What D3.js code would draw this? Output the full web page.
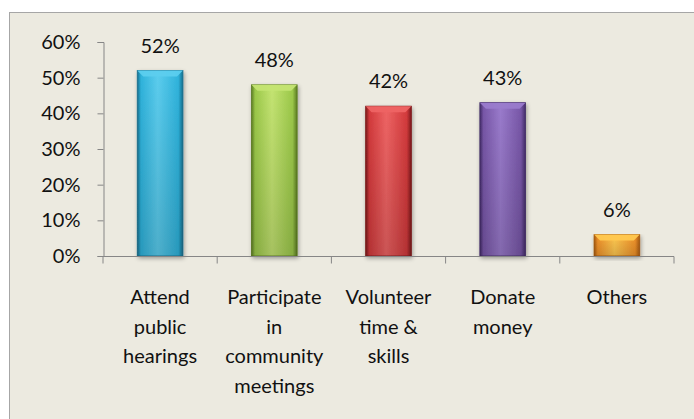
<!DOCTYPE html>
<html>
<head>
<meta charset="utf-8">
<script src="https://cdn.jsdelivr.net/npm/d3@7"></script>
<style>
  body { margin: 0; background: #ffffff; }
  svg { display: block; font-family: Lato, "Open Sans", sans-serif; }
</style>
</head>
<body>
<svg id="chart" width="694" height="419"></svg>
<script>
// chart data
const categories = [
    ["Attend", "public", "hearings"],
    ["Participate", "in", "community", "meetings"],
    ["Volunteer", "time &", "skills"],
    ["Donate", "money"],
    ["Others"]
];
const values = [0.52, 0.48, 0.42, 0.43, 0.06];
const valueLabels = ["52%", "48%", "42%", "43%", "6%"];
const yTicks = [0, 0.1, 0.2, 0.3, 0.4, 0.5, 0.6];
// base, light, dark for each bar
const barColors = [
    ["#2fb3dc", "#5ccdee", "#16708f"],
    ["#9cc94a", "#c4e472", "#5c7d22"],
    ["#d33a3c", "#ee6464", "#7d1a1c"],
    ["#7857a8", "#9a7bcc", "#432c68"],
    ["#f0922a", "#ffc850", "#a85a10"]
];

const svg = d3.select('#chart');

// chart area frame
svg.append('rect')
    .attr('x', 9.5).attr('y', 12.5)
    .attr('width', 700).attr('height', 420)
    .attr('fill', '#eceae0')
    .attr('stroke', '#a6a6a6');

let x = d3.scaleBand()
    .domain(d3.range(values.length))
    .range([103, 674])
    .paddingInner(0.6)
    .paddingOuter(0.3);

let y = d3.scaleLinear()
    .domain([0, 0.6])
    .range([256, 42]);

let defs = svg.append('defs');
barColors.forEach(function (c, i) {
    let g = defs.append('linearGradient').attr('id', 'bar' + i)
        .attr('x1', 0).attr('x2', 1).attr('y1', 0).attr('y2', 0);
    g.append('stop').attr('offset', 0).attr('stop-color', c[2]);
    g.append('stop').attr('offset', 0.08).attr('stop-color', c[0]);
    g.append('stop').attr('offset', 0.45).attr('stop-color', c[1]);
    g.append('stop').attr('offset', 0.9).attr('stop-color', c[0]);
    g.append('stop').attr('offset', 1).attr('stop-color', c[2]);

    let v = defs.append('linearGradient').attr('id', 'shade' + i)
        .attr('x1', 0).attr('x2', 0).attr('y1', 0).attr('y2', 1);
    v.append('stop').attr('offset', 0).attr('stop-color', '#000').attr('stop-opacity', 0);
    v.append('stop').attr('offset', 1).attr('stop-color', '#000').attr('stop-opacity', 0.15);
});

let shadow = defs.append('filter').attr('id', 'shadow')
    .attr('x', '-20%').attr('y', '-10%').attr('width', '140%').attr('height', '130%');
shadow.append('feGaussianBlur').attr('in', 'SourceAlpha').attr('stdDeviation', 2);
shadow.append('feOffset').attr('dx', 1).attr('dy', 2).attr('result', 'off');
shadow.append('feComponentTransfer').append('feFuncA').attr('type', 'linear').attr('slope', 0.35);
let merge = shadow.append('feMerge');
merge.append('feMergeNode');
merge.append('feMergeNode').attr('in', 'SourceGraphic');

// y axis
let yAxis = svg.append('g')
    .attr('transform', 'translate(103.5,0)')
    .call(d3.axisLeft(y).tickValues(yTicks).tickFormat(d3.format('.0%')).tickSize(6).tickPadding(17));
yAxis.select('.domain').attr('stroke', '#868686');
yAxis.selectAll('.tick line').attr('stroke', '#868686');
yAxis.selectAll('.tick text')
    .attr('font-size', 20).attr('fill', '#111')
    .attr('font-family', 'Lato, sans-serif');

// bars
let bars = svg.append('g').selectAll('g.bar')
    .data(values)
    .join('g')
    .classed('bar', true)
    .attr('filter', 'url(#shadow)');

bars.append('rect')
    .attr('x', (d, i) => x(i))
    .attr('y', d => y(d))
    .attr('width', x.bandwidth())
    .attr('height', d => y(0) - y(d))
    .attr('fill', (d, i) => 'url(#bar' + i + ')')
    .attr('stroke', (d, i) => barColors[i][2])
    .attr('stroke-width', 0.8);

bars.append('rect')
    .attr('x', (d, i) => x(i))
    .attr('y', d => y(d))
    .attr('width', x.bandwidth())
    .attr('height', d => y(0) - y(d))
    .attr('fill', (d, i) => 'url(#shade' + i + ')');

// top bevel highlight
bars.append('path')
    .attr('d', function (d, i) {
        let x0 = x(i), x1 = x(i) + x.bandwidth(), t = y(d), h = 6;
        return 'M' + x0 + ',' + t + 'L' + x1 + ',' + t + 'L' + (x1 - h) + ',' + (t + h)
            + 'L' + (x0 + h) + ',' + (t + h) + 'Z';
    })
    .attr('fill', (d, i) => barColors[i][1])
    .attr('opacity', 0.95);

// x axis
let xAxis = svg.append('g')
    .attr('transform', 'translate(0,256.5)');
xAxis.append('line')
    .attr('x1', 103).attr('x2', 674)
    .attr('stroke', '#868686');
let step = x.step();
let edges = d3.range(values.length + 1).map(i => x(0) - (step - x.bandwidth()) / 2 + i * step);
xAxis.selectAll('line.tick')
    .data(edges)
    .join('line')
    .classed('tick', true)
    .attr('x1', d => d).attr('x2', d => d)
    .attr('y1', 0).attr('y2', 7)
    .attr('stroke', '#868686');

// value labels
svg.append('g').selectAll('text')
    .data(values)
    .join('text')
    .attr('x', (d, i) => x(i) + x.bandwidth() / 2)
    .attr('y', d => y(d) - 18)
    .attr('text-anchor', 'middle')
    .attr('font-size', 20)
    .attr('fill', '#111')
    .text((d, i) => valueLabels[i]);

// category labels
let catText = svg.append('g').selectAll('text')
    .data(categories)
    .join('text')
    .attr('text-anchor', 'middle')
    .attr('font-size', 20)
    .attr('fill', '#111');

catText.selectAll('tspan')
    .data((d, i) => d.map(line => ({line: line, i: i})))
    .join('tspan')
    .attr('x', d => x(d.i) + x.bandwidth() / 2)
    .attr('y', (d, j) => 304 + j * 29.5)
    .text(d => d.line);
</script>
</body>
</html>
